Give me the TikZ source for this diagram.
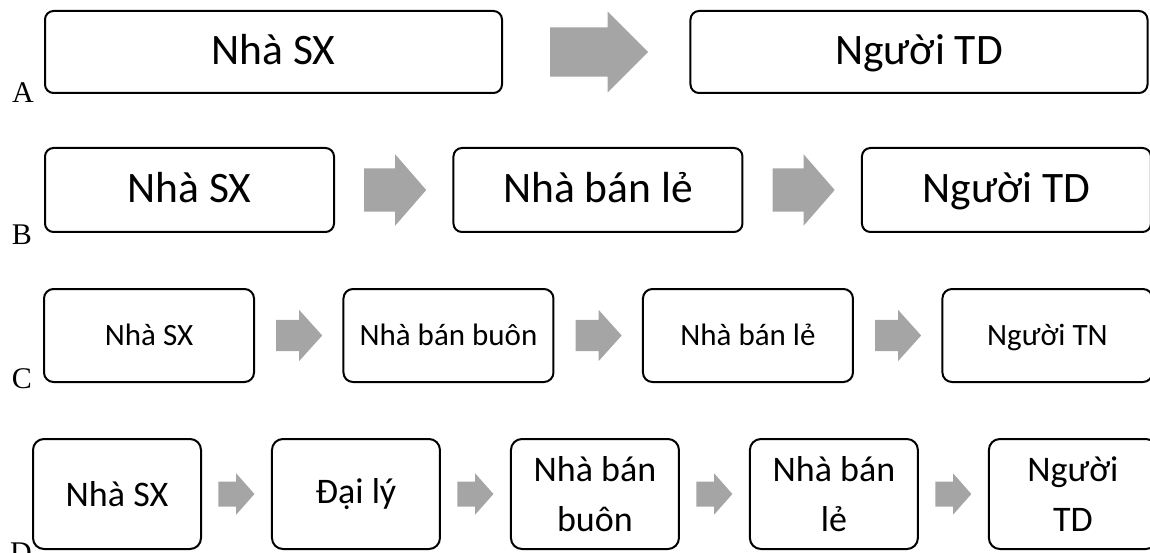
\documentclass[tikz,border=0pt]{standalone}
\usepackage{fontspec}
\setmainfont{Liberation Serif}
\newfontfamily\calibri{Carlito}
\usetikzlibrary{shapes.arrows, positioning}
\definecolor{arrowgray}{HTML}{A5A5A5}

\begin{document}
\begin{tikzpicture}[
  x=1pt, y=-1pt,
  box/.style = {
    draw=black,
    fill=white,
    line width=2pt,
    align=center,
    inner sep=0pt
  },
  box A/.style = {
    box,
    rounded corners=8.5pt,
    minimum width=457pt,
    minimum height=82pt,
    text height=32pt, text depth=6pt,
    font={\calibri\fontsize{43.5}{52}\selectfont}
  },
  box B/.style = {
    box,
    rounded corners=8.5pt,
    minimum width=289pt,
    minimum height=84pt,
    text height=32pt, text depth=6pt,
    font={\calibri\fontsize{43.5}{52}\selectfont}
  },
  box C/.style = {
    box,
    rounded corners=9.5pt,
    minimum width=210pt,
    minimum height=93pt,
    text height=23pt, text depth=4pt,
    font={\calibri\fontsize{31}{38}\selectfont}
  },
  box D/.style = {
    box,
    rounded corners=11pt,
    minimum width=168pt,
    minimum height=110pt,
    font={\calibri\fontsize{36}{50}\selectfont}
  },
  blockarr/.style = {
    single arrow,
    fill=arrowgray,
    draw=none,
    inner xsep=0pt
  },
  arr A/.style = {blockarr, minimum height=98pt, inner ysep=24.5pt,
    single arrow head extend=16pt, single arrow tip angle=90},
  arr B/.style = {blockarr, minimum height=62pt, inner ysep=21.5pt,
    single arrow head extend=14pt, single arrow tip angle=98},
  arr C/.style = {blockarr, minimum height=46pt, inner ysep=15.5pt,
    single arrow head extend=10pt, single arrow tip angle=96},
  arr D/.style = {blockarr, minimum height=36pt, inner ysep=12.3pt,
    single arrow head extend=8.2pt, single arrow tip angle=97},
  rowlabel/.style = {
    font={\fontsize{30}{36}\selectfont},
    inner sep=0pt
  }
]
\useasboundingbox (0,0) rectangle (1150,553);

% row A
\node[box A] (a1) at (273.5,52) {Nhà SX};
\node[arr A, right=47pt of a1, anchor=tail] (aa1) {};
\node[box A, right=41pt of aa1.tip] (a2) {Người TD};

% row B
\node[box B] (b1) at (189.5,190) {Nhà SX};
\node[arr B, right=29pt of b1, anchor=tail] (ab1) {};
\node[box B, right=26pt of ab1.tip] (b2) {Nhà bán lẻ};
\node[arr B, right=29pt of b2, anchor=tail] (ab2) {};
\node[box B, right=26pt of ab2.tip] (b3) {Người TD};

% row C
\node[box C] (c1) at (149,335.5) {Nhà SX};
\node[arr C, right=21pt of c1, anchor=tail] (ac1) {};
\node[box C, right=20pt of ac1.tip] (c2) {Nhà bán buôn};
\node[arr C, right=21pt of c2, anchor=tail] (ac2) {};
\node[box C, right=20pt of ac2.tip] (c3) {Nhà bán lẻ};
\node[arr C, right=21pt of c3, anchor=tail] (ac3) {};
\node[box C, right=20pt of ac3.tip] (c4) {Người TN};

% row D
\node[box D] (d1) at (117,494) {Nhà SX};
\node[arr D, right=16.25pt of d1, anchor=tail] (ad1) {};
\node[box D, right=16.25pt of ad1.tip] (d2) {Đại lý};
\node[arr D, right=16.25pt of d2, anchor=tail] (ad2) {};
\node[box D, right=16.25pt of ad2.tip] (d3) {Nhà bán\\buôn};
\node[arr D, right=16.25pt of d3, anchor=tail] (ad3) {};
\node[box D, right=16.25pt of ad3.tip] (d4) {Nhà bán\\lẻ};
\node[arr D, right=16.25pt of d4, anchor=tail] (ad4) {};
\node[box D, right=16.25pt of ad4.tip] (d5) {Người\\TD};

% row letters
\node[rowlabel, below left=9pt and 10pt of a1.south west, anchor=base east] (la) {A};
\node[rowlabel, below left=11pt and 12pt of b1.south west, anchor=base east] (lb) {B};
\node[rowlabel, below left=5pt and 11pt of c1.south west, anchor=base east] (lc) {C};
\node[rowlabel, below left=12pt and 0pt of d1.south west, anchor=base east] (ld) {D};

\end{tikzpicture}
\end{document}
